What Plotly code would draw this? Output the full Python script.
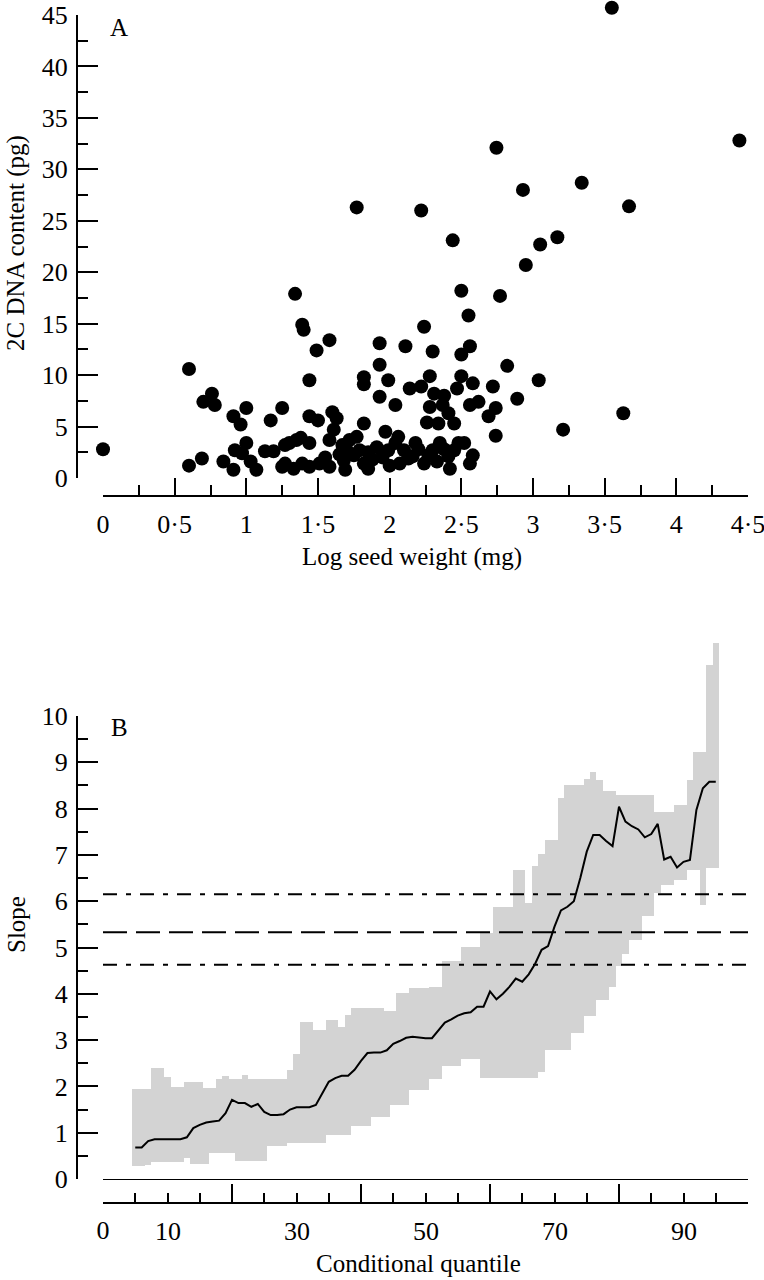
import plotly.graph_objects as go

# ---- panel A: seed weight vs 2C DNA content ----
log_seed_weight = [
    0.00, 0.60, 0.60, 0.69, 0.70, 0.76, 0.78, 0.84, 0.91, 0.96, 1.00, 0.92, 0.91, 0.97,
    1.00, 1.03, 1.07, 1.13, 1.19, 1.17, 1.25, 1.27, 1.27, 1.34, 1.39, 1.40, 1.35, 1.33,
    1.39, 1.44, 1.49, 1.58, 1.44, 1.50, 1.44, 1.44, 1.51, 1.58, 1.60, 1.63, 1.61, 1.58,
    1.67, 1.68, 1.69, 1.70, 1.77, 1.79, 1.82, 1.85, 1.77, 1.82, 1.82, 1.82, 1.84, 1.85,
    1.91, 1.93, 1.93, 1.93, 1.97, 1.99, 1.99, 2.04, 2.04, 2.06, 2.07, 2.11, 2.14, 2.16,
    2.18, 2.22, 2.22, 2.24, 2.24, 2.26, 2.28, 2.28, 2.30, 2.30, 2.31, 2.34, 2.35, 2.37,
    2.38, 2.41, 2.41, 2.42, 2.44, 2.45, 2.47, 2.48, 2.50, 2.50, 2.50, 2.55, 2.56, 2.56,
    2.56, 2.58, 2.58, 2.62, 2.69, 2.72, 2.74, 2.74, 2.745, 2.77, 2.82, 2.89, 2.93, 2.95,
    3.04, 3.05, 3.17, 3.21, 3.34, 3.55, 3.63, 3.67, 4.44,
    2.10, 2.13, 2.20, 2.27, 2.33, 2.38, 2.45, 2.52, 2.00, 1.95, 1.88, 1.75, 1.72, 1.65,
    1.55, 1.30, 1.38, 1.25,
]
dna_content = [
    2.8, 10.6, 1.2, 1.9, 7.4, 8.2, 7.1, 1.6, 6.0, 5.2, 6.8, 2.7, 0.8, 2.4,
    3.4, 1.6, 0.8, 2.6, 2.6, 5.6, 6.8, 3.2, 1.4, 17.9, 14.9, 14.4, 3.7, 0.9,
    1.4, 9.5, 12.4, 13.4, 6.0, 5.6, 3.4, 1.1, 1.4, 1.1, 6.4, 5.8, 4.7, 3.7,
    3.2, 1.7, 0.8, 2.7, 4.0, 2.7, 1.4, 0.9, 26.3, 5.3, 9.8, 9.1, 1.3, 2.5,
    3.0, 7.9, 11.0, 13.1, 4.5, 2.7, 9.5, 3.4, 7.1, 4.0, 1.4, 12.8, 8.7, 2.1,
    3.4, 8.9, 26.0, 14.7, 1.4, 5.4, 9.9, 6.9, 12.3, 2.7, 8.2, 5.3, 3.4, 7.1,
    8.0, 6.3, 2.1, 0.9, 23.1, 5.3, 8.7, 3.4, 18.2, 12.0, 9.9, 15.8, 12.8, 7.1,
    1.4, 2.2, 9.2, 7.4, 6.0, 8.9, 6.8, 4.1, 32.1, 17.7, 10.9, 7.7, 28.0, 20.7,
    9.5, 22.7, 23.4, 4.7, 28.7, 45.7, 6.3, 26.4, 32.8,
    2.7, 1.9, 2.8, 2.2, 1.6, 2.8, 2.7, 3.4, 1.2, 2.0, 1.8, 2.2, 3.7, 2.3,
    2.0, 3.4, 3.9, 1.1,
]
a_xticks = [0, 0.5, 1, 1.5, 2, 2.5, 3, 3.5, 4, 4.5]
a_xticklabels = ["0", "0·5", "1", "1·5", "2", "2·5", "3", "3·5", "4", "4·5"]
a_yticks = [0, 5, 10, 15, 20, 25, 30, 35, 40, 45]

# ---- panel B: quantile regression slopes ----
quantile = list(range(5, 96))
slope_median = [
    0.68, 0.68, 0.82, 0.86, 0.86, 0.86, 0.86, 0.86, 0.90, 1.10,
    1.17, 1.22, 1.24, 1.26, 1.42, 1.71, 1.64, 1.64, 1.56, 1.62,
    1.45, 1.38, 1.38, 1.40, 1.50, 1.55, 1.55, 1.55, 1.60, 1.85,
    2.10, 2.18, 2.23, 2.23, 2.36, 2.55, 2.72, 2.73, 2.73, 2.78,
    2.92, 2.98, 3.05, 3.07, 3.05, 3.04, 3.04, 3.22, 3.38, 3.45,
    3.53, 3.58, 3.60, 3.72, 3.72, 4.05, 3.88, 4.00, 4.15, 4.33,
    4.26, 4.42, 4.65, 4.95, 5.03, 5.45, 5.80, 5.88, 6.00, 6.50,
    7.07, 7.43, 7.43, 7.30, 7.19, 8.04, 7.72, 7.62, 7.55, 7.38,
    7.45, 7.67, 6.90, 6.96, 6.73, 6.85, 6.89, 7.97, 8.44, 8.58,
    8.58,
]
slope_lower = [
    0.28, 0.28, 0.30, 0.37, 0.37, 0.37, 0.37, 0.37, 0.45, 0.32,
    0.32, 0.32, 0.57, 0.57, 0.57, 0.57, 0.38, 0.38, 0.38, 0.38,
    0.38, 0.72, 0.72, 0.72, 0.78, 0.78, 0.78, 0.78, 0.78, 0.78,
    0.95, 0.95, 0.95, 0.95, 1.15, 1.15, 1.15, 1.33, 1.33, 1.33,
    1.60, 1.60, 1.60, 1.92, 1.92, 1.92, 2.15, 2.15, 2.45, 2.45,
    2.45, 2.60, 2.60, 2.60, 2.18, 2.18, 2.18, 2.18, 2.18, 2.18,
    2.18, 2.18, 2.18, 2.32, 2.79, 2.79, 2.79, 2.79, 3.15, 3.15,
    3.51, 3.51, 3.87, 3.87, 4.15, 4.60, 4.85, 5.16, 5.16, 5.67,
    5.67, 6.17, 6.35, 6.35, 6.46, 6.46, 6.67, 6.67, 5.92, 6.71,
    6.71,
]
slope_upper = [
    1.94, 1.94, 1.94, 2.39, 2.39, 2.21, 1.99, 1.99, 2.10, 2.10,
    2.10, 1.96, 1.96, 2.17, 2.22, 2.17, 2.17, 2.24, 2.17, 2.17,
    2.17, 2.17, 2.17, 2.17, 2.35, 2.71, 3.40, 3.40, 3.22, 3.22,
    3.43, 3.43, 3.29, 3.54, 3.69, 3.69, 3.69, 3.69, 3.69, 3.62,
    3.62, 4.01, 4.01, 4.12, 4.12, 4.12, 4.15, 4.15, 4.70, 4.70,
    4.70, 5.02, 5.02, 5.02, 5.31, 5.31, 5.88, 5.88, 5.88, 6.67,
    6.67, 5.97, 6.75, 7.03, 7.32, 7.32, 8.22, 8.51, 8.51, 8.51,
    8.65, 8.80, 8.62, 8.37, 8.37, 8.29, 8.29, 8.29, 8.29, 8.29,
    8.29, 7.93, 7.93, 7.93, 8.08, 8.08, 8.62, 9.23, 9.23, 11.10,
    11.58,
]
ref_slopes = [6.15, 5.33, 4.63]
ref_dash = ["14px,9px,5px,9px", "24px,9px", "14px,9px,5px,9px"]
ref_span = [0, 100]
b_yticks = [0, 1, 2, 3, 4, 5, 6, 7, 8, 9, 10]
b_major_xticks = [0, 20, 40, 60, 80, 100]
b_major_xlabels = ["0", "", "", "", "", ""]
b_label_xticks = [10, 30, 50, 70, 90]

W, H = 764, 1280
FONT = "Liberation Serif, Times New Roman, serif"

# pixel geometry of the two panels
X0, X1 = 103, 748
A_Y0, A_Y45, A_XLINE = 478, 15, 496
B_Y0, B_Y10, B_XLINE = 1179, 716, 1203
Y_LINE = 77


def fx(px):
    return px / W


def fy(py):
    return 1 - py / H


# data axes reach higher than the drawn axes so marks above the top tick are not cut
a_scale = (A_Y0 - A_Y45) / 45.0
a_data_top = A_Y0 / a_scale
b_scale = (B_Y0 - B_Y10) / 10.0
b_data_top = (B_Y0 - 640) / b_scale

fig = go.Figure()

# panel A
fig.add_trace(go.Scatter(
    x=log_seed_weight, y=dna_content, mode="markers",
    marker=dict(color="black", size=14, line=dict(width=0)),
    cliponaxis=False, xaxis="x", yaxis="y3", showlegend=False,
))
fig.add_trace(go.Scatter(x=[None], y=[None], xaxis="x", yaxis="y",
                         showlegend=False, hoverinfo="skip"))

# panel B
band_height = [u - l for u, l in zip(slope_upper, slope_lower)]
fig.add_trace(go.Bar(
    x=quantile, y=band_height, base=slope_lower, width=1.0,
    marker=dict(color="#d3d3d3", line=dict(width=0)),
    xaxis="x2", yaxis="y4", showlegend=False,
))
for level, dash in zip(ref_slopes, ref_dash):
    fig.add_trace(go.Scatter(
        x=ref_span, y=[level, level], mode="lines",
        line=dict(color="black", width=2, dash=dash),
        xaxis="x2", yaxis="y4", showlegend=False,
    ))
fig.add_trace(go.Scatter(
    x=quantile, y=slope_median, mode="lines",
    line=dict(color="black", width=2),
    xaxis="x2", yaxis="y4", showlegend=False,
))
fig.add_trace(go.Scatter(x=[None], y=[None], xaxis="x2", yaxis="y2",
                         showlegend=False, hoverinfo="skip"))

tick_font = dict(family=FONT, size=26, color="black")
axis_common = dict(
    showline=True, linewidth=2, linecolor="black", showgrid=False,
    ticks="inside", tickwidth=2, tickcolor="black", tickfont=tick_font,
    anchor="free", tickmode="array", automargin=False, ticklabeloverflow="allow",
)
hidden_axis = dict(
    visible=False, showline=False, showgrid=False, zeroline=False,
    showticklabels=False, ticks="", anchor="free", position=0, automargin=False,
)

fig.update_layout(
    width=W, height=H,
    margin=dict(l=0, r=0, t=0, b=0, autoexpand=False),
    paper_bgcolor="white", plot_bgcolor="white",
    bargap=0,
    xaxis=dict(
        axis_common, domain=[fx(X0), fx(X1)], range=[0, 4.5],
        position=fy(A_XLINE), tickvals=a_xticks, ticktext=a_xticklabels,
        ticklen=19, zeroline=False, ticklabelstandoff=5,
        minor=dict(dtick=0.25, ticklen=10, tickwidth=2, tickcolor="black", ticks="inside"),
    ),
    yaxis=dict(
        axis_common, domain=[fy(A_Y0), fy(A_Y45)], range=[0, 45],
        position=fx(Y_LINE), tickvals=a_yticks, ticklen=20, zeroline=False,
        ticklabelstandoff=3,
        minor=dict(dtick=2.5, ticklen=10, tickwidth=2, tickcolor="black", ticks="inside"),
    ),
    yaxis3=dict(hidden_axis, domain=[fy(A_Y0), 1], range=[0, a_data_top]),
    xaxis2=dict(
        axis_common, domain=[fx(X0), fx(X1)], range=[0, 100],
        position=fy(B_XLINE), tickvals=b_major_xticks, ticktext=b_major_xlabels,
        ticklen=18, zeroline=False, ticklabelstandoff=4,
        minor=dict(dtick=5, ticklen=9, tickwidth=2, tickcolor="black", ticks="inside"),
    ),
    yaxis2=dict(
        axis_common, domain=[fy(B_Y0), fy(B_Y10)], range=[0, 10],
        position=fx(Y_LINE), tickvals=b_yticks, ticklen=20,
        zeroline=True, zerolinecolor="black", zerolinewidth=2,
        ticklabelstandoff=3,
        minor=dict(dtick=0.5, ticklen=10, tickwidth=2, tickcolor="black", ticks="inside"),
    ),
    yaxis4=dict(hidden_axis, domain=[fy(B_Y0), fy(640)], range=[0, b_data_top]),
)

# tick labels 10, 30, ... 90 sit between the long ticks
for q in b_label_xticks:
    fig.add_annotation(
        x=q, xref="x2", y=fy(1231), yref="paper", text=str(q), showarrow=False,
        xanchor="center", yanchor="middle", font=tick_font,
    )

title_font = dict(family=FONT, size=25, color="black")
notes = [
    dict(text="A", x=fx(119), y=fy(27)),
    dict(text="B", x=fx(119), y=fy(727)),
    dict(text="Log seed weight (mg)", x=fx(412), y=fy(557)),
    dict(text="Conditional quantile", x=fx(418), y=fy(1263)),
    dict(text="2C DNA content (pg)", x=fx(16), y=fy(243), textangle=-90),
    dict(text="Slope", x=fx(16), y=fy(925), textangle=-90),
]
for n in notes:
    fig.add_annotation(
        xref="paper", yref="paper", showarrow=False,
        xanchor="center", yanchor="middle", font=title_font, **n,
    )

# drop the page's default body margin so the figure starts at the window corner
fig.write_html(
    "out.html",
    config={"displayModeBar": False},
    post_script="document.body.style.margin = '0';",
)
